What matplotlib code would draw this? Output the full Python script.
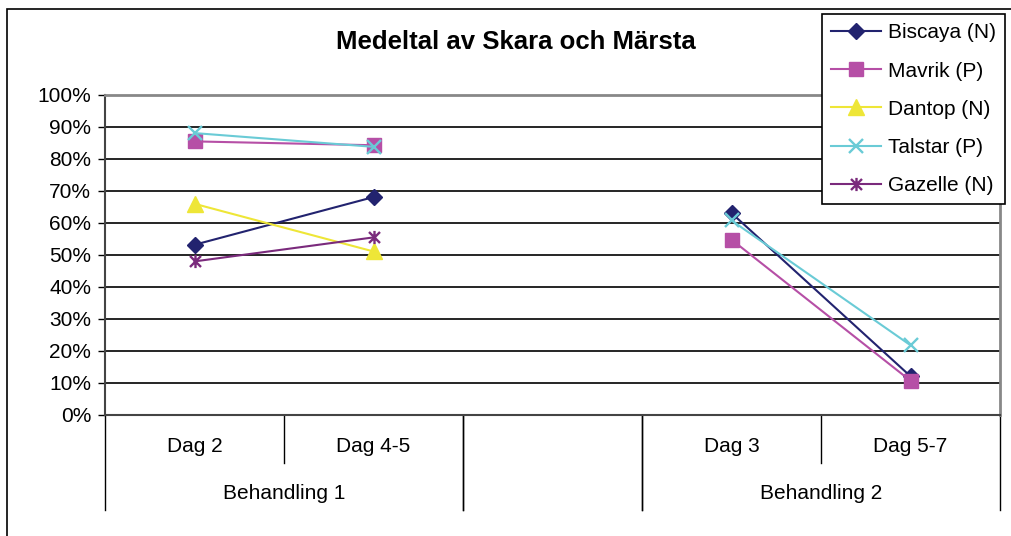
import numpy as np
import matplotlib.pyplot as plt
from matplotlib.path import Path
from matplotlib.patches import Rectangle

plt.rcParams['font.family'] = ['Liberation Sans', 'DejaVu Sans']

# data
days = ["Dag 2", "Dag 4-5", "", "Dag 3", "Dag 5-7"]
groups = ["Behandling 1", "", "Behandling 2"]
group_spans = [(0, 1), (2, 2), (3, 4)]
series_names = ["Biscaya (N)", "Mavrik (P)", "Dantop (N)", "Talstar (P)", "Gazelle (N)"]
biscaya = [53.2, 68.1, np.nan, 63.1, 12.1]
mavrik = [85.5, 84.3, np.nan, 54.8, 10.7]
dantop = [66.0, 51.1, np.nan, np.nan, np.nan]
talstar = [88.1, 83.8, np.nan, 60.8, 21.8]
gazelle = [48.0, 55.5, np.nan, np.nan, np.nan]

# x + vertical line, like the Excel star marker
star = Path([(-1, -1), (1, 1), (-1, 1), (1, -1), (0, -1.2), (0, 1.2)],
            [Path.MOVETO, Path.LINETO, Path.MOVETO, Path.LINETO, Path.MOVETO, Path.LINETO])

styles = [
    dict(color="#22236f", marker="D", ms=8.5),
    dict(color="#b64fa6", marker="s", ms=9.5),
    dict(color="#eee637", marker="^", ms=11),
    dict(color="#6acbd6", marker="x", ms=9.5, mew=1.7),
    dict(color="#7a2a7c", marker=star, ms=9.5, mew=1.7),
]

fig = plt.figure(figsize=(10.12, 5.36), dpi=100)
ax = fig.add_axes([105 / 1012, 1 - 415 / 536, 895 / 1012, 320 / 536])

x = np.arange(len(days))
for name, vals, st in zip(series_names, [biscaya, mavrik, dantop, talstar, gazelle], styles):
    ax.plot(x, np.array(vals) / 100, label=name, lw=1.5, **st)

ax.set_xlim(-0.5, len(days) - 0.5)
ax.set_ylim(0, 1)
ax.set_yticks(np.arange(0, 1.01, 0.1))
ax.set_yticklabels([f"{int(round(v * 100))}%" for v in np.arange(0, 1.01, 0.1)], fontsize=15)
ax.tick_params(axis='y', direction='out', length=5, width=1, pad=5)
ax.set_xticks([])
ax.yaxis.grid(True, color='black', lw=1.2)
ax.set_axisbelow(True)
for s in ['top', 'right']:
    ax.spines[s].set_color('#888888')
    ax.spines[s].set_linewidth(2)
ax.spines['left'].set_color('#444444')
ax.spines['bottom'].set_color('#444444')
ax.spines['left'].set_linewidth(1.5)
ax.spines['bottom'].set_linewidth(1.5)

# category axis with two levels
tr = ax.get_xaxis_transform()
for i, d in enumerate(days):
    ax.text(i, -0.10, d, transform=tr, ha='center', va='center', fontsize=15)
for g, (a, b) in zip(groups, group_spans):
    ax.text((a + b) / 2, -0.245, g, transform=tr, ha='center', va='center', fontsize=15)
    for edge in (a - 0.5, b + 0.5):
        ax.plot([edge, edge], [0, -0.297], transform=tr, color='black', lw=1, clip_on=False)
    for k in range(a, b):
        ax.plot([k + 0.5, k + 0.5], [0, -0.15], transform=tr, color='black', lw=1, clip_on=False)

fig.text(516 / 1012, 1 - 42 / 536, "Medeltal av Skara och Märsta", ha='center', va='center',
         fontsize=18.5, fontweight='bold')

leg = ax.legend(loc='upper left', bbox_to_anchor=(822 / 1012, 1 - 14 / 536),
                bbox_transform=fig.transFigure, fontsize=15, frameon=True, fancybox=False,
                framealpha=1, edgecolor='black', handlelength=2.4, handletextpad=0.3,
                labelspacing=0.92, borderpad=0.45, borderaxespad=0)
leg.get_frame().set_linewidth(1.2)

fig.patches.append(Rectangle((7 / 1012, -0.1), 1.2, 1.1 - 9 / 536, transform=fig.transFigure,
                             fill=False, edgecolor='black', lw=1.2))

fig.savefig("out.png", dpi=100)
